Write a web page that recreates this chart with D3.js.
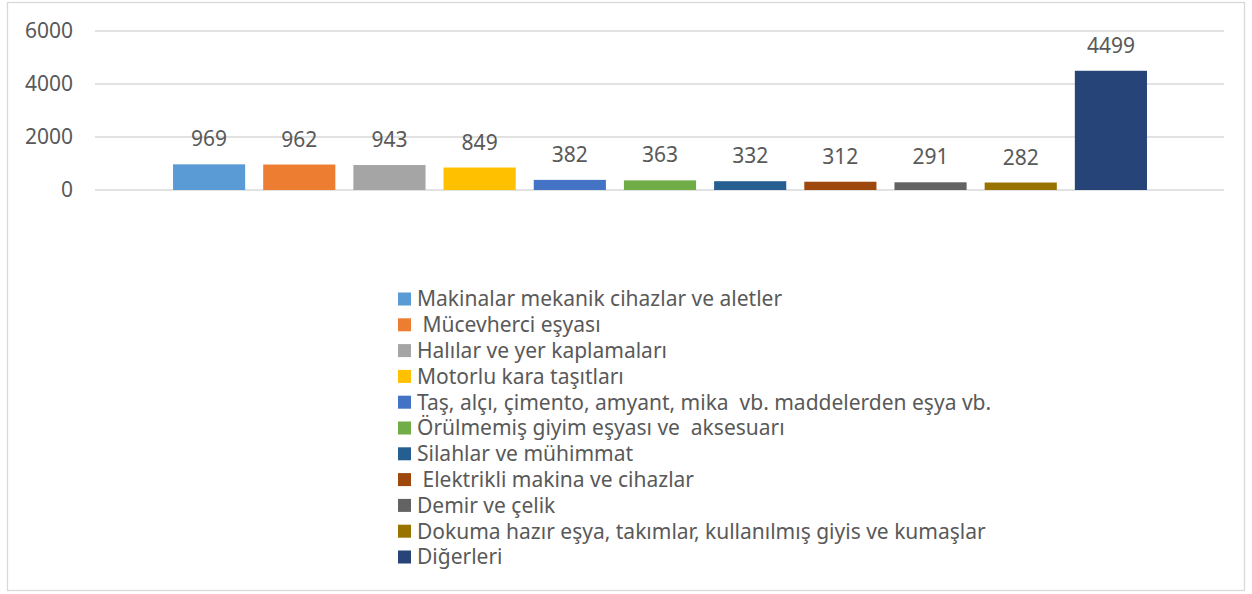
<!DOCTYPE html>
<html>
<head>
<meta charset="utf-8">
<script src="https://cdn.jsdelivr.net/npm/d3@7"></script>
<style>
  body { margin: 0; background: #fff; }
  svg text { font-family: "Noto Sans", "Open Sans", sans-serif; fill: #595959; white-space: pre; }
</style>
</head>
<body>
<svg></svg>
<script>
// categories (series of the single cluster)
const categories = [
  'Makinalar mekanik cihazlar ve aletler',
  ' Mücevherci eşyası',
  'Halılar ve yer kaplamaları',
  'Motorlu kara taşıtları',
  'Taş, alçı, çimento, amyant, mika  vb. maddelerden eşya vb.',
  'Örülmemiş giyim eşyası ve  aksesuarı',
  'Silahlar ve mühimmat',
  ' Elektrikli makina ve cihazlar',
  'Demir ve çelik',
  'Dokuma hazır eşya, takımlar, kullanılmış giyis ve kumaşlar',
  'Diğerleri'
];
const values = [969, 962, 943, 849, 382, 363, 332, 312, 291, 282, 4499];
const colors = ['#5B9BD5', '#ED7D31', '#A5A5A5', '#FFC000', '#4472C4', '#70AD47',
                '#255E91', '#9E480E', '#636363', '#997300', '#264478'];
const yTicks = [0, 2000, 4000, 6000];

let width = 1252;
let height = 594;

let svg = d3.select('svg')
  .attr('width', width)
  .attr('height', height);

// chart frame
svg.append('rect')
  .attr('x', 7.5).attr('y', 2.5)
  .attr('width', 1237).attr('height', 588)
  .attr('fill', 'none')
  .attr('stroke', '#d9d9d9')
  .attr('stroke-width', 1.3);

let y = d3.scaleLinear()
  .domain([0, 6000])
  .range([190, 31]);

let x = d3.scaleBand()
  .domain(categories)
  .range([164, 1156])
  .paddingInner(0.2)
  .paddingOuter(0.1);

// gridlines
svg.append('g')
  .selectAll('line')
  .data(yTicks)
  .enter()
    .append('line')
    .attr('x1', 95).attr('x2', 1224)
    .attr('y1', d => y(d)).attr('y2', d => y(d))
    .attr('stroke', '#d9d9d9')
    .attr('stroke-width', 1.3);

// y axis labels
let yAxis = d3.axisLeft(y)
  .tickValues(yTicks)
  .tickFormat(d3.format('d'))
  .tickSize(0)
  .tickPadding(0);
svg.append('g')
  .attr('transform', 'translate(73,0)')
  .call(yAxis)
  .call(g => g.select('.domain').remove())
  .call(g => g.selectAll('text')
    .style('font-size', '21px')
    .attr('fill', '#595959'));

// bars
svg.append('g')
  .selectAll('rect')
  .data(values)
  .enter()
    .append('rect')
    .attr('x', (d, i) => x(categories[i]))
    .attr('y', d => y(d))
    .attr('width', x.bandwidth())
    .attr('height', d => y(0) - y(d))
    .attr('fill', (d, i) => colors[i]);

// value labels
svg.append('g')
  .selectAll('text')
  .data(values)
  .enter()
    .append('text')
    .attr('x', (d, i) => x(categories[i]) + x.bandwidth() / 2)
    .attr('y', d => y(d) - 18)
    .attr('text-anchor', 'middle')
    .style('font-size', '21px')
    .text(d => d);

// legend
let legend = svg.append('g')
  .selectAll('g')
  .data(categories)
  .enter()
    .append('g')
    .attr('transform', (d, i) => `translate(398,${299 + i * 25.8})`);

legend.append('rect')
  .attr('x', 0).attr('y', -6.5)
  .attr('width', 13).attr('height', 13)
  .attr('fill', (d, i) => colors[i]);

legend.append('text')
  .attr('x', 19)
  .attr('dy', '0.35em')
  .style('font-size', '21px')
  .text(d => d);
</script>
</body>
</html>
